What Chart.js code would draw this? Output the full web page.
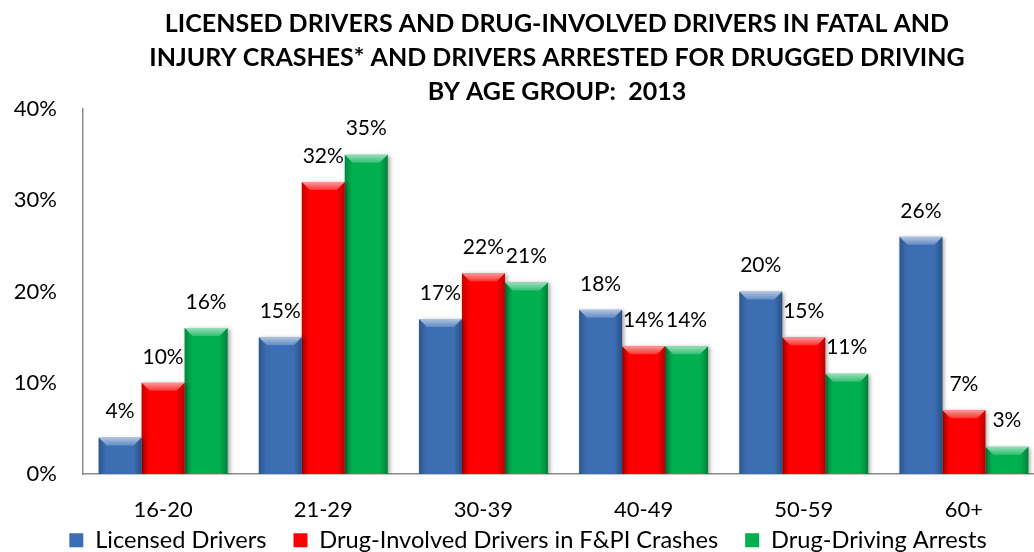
<!DOCTYPE html>
<html>
<head>
<meta charset="utf-8">
<script src="https://cdn.jsdelivr.net/npm/chart.js@4.4.1/dist/chart.umd.min.js"></script>
<style>
  html, body { margin: 0; padding: 0; background: #fff; overflow: hidden; width: 1034px; height: 552px; }
  #wrap { position: absolute; left: 0; top: 0; width: 1062px; height: 590px; }
</style>
</head>
<body>
<div id="wrap"><canvas id="c" width="1062" height="590"></canvas></div>
<script>
const titleLines = [
  'LICENSED DRIVERS AND DRUG-INVOLVED DRIVERS IN FATAL AND',
  'INJURY CRASHES* AND DRIVERS ARRESTED FOR DRUGGED DRIVING',
  'BY AGE GROUP:  2013'
];
const ageGroups = ['16-20', '21-29', '30-39', '40-49', '50-59', '60+'];
const seriesNames = ['Licensed Drivers', 'Drug-Involved Drivers in F&PI Crashes', 'Drug-Driving Arrests'];
const licensedDrivers = [4, 15, 17, 18, 20, 26];
const drugInvolvedDrivers = [10, 32, 22, 14, 15, 7];
const drugDrivingArrests = [16, 35, 21, 14, 11, 3];
const yTicks = [0, 10, 20, 30, 40];

const FONT = 'Lato';

const titlePlugin = {
  id: 'titleText',
  afterDraw(chart) {
    const ctx = chart.ctx;
    ctx.save();
    ctx.font = 'bold 25px ' + FONT;
    ctx.fillStyle = '#000';
    ctx.textAlign = 'center';
    ctx.textBaseline = 'middle';
    const ys = [24, 58, 92];
    titleLines.forEach((t, i) => ctx.fillText(t, 557, ys[i]));
    ctx.restore();
  }
};

const legendShift = {
  id: 'legendShift',
  afterLayout(chart) {
    const lg = chart.legend;
    if (lg) { lg.top -= 28; lg.bottom -= 28; }
  }
};

const bevelPlugin = {
  id: 'bevel',
  beforeDatasetsDraw(chart) {
    const ctx = chart.ctx;
    ctx.save();
    ctx.shadowColor = 'rgba(0,0,0,0.35)';
    ctx.shadowBlur = 4;
    ctx.shadowOffsetX = 2;
    ctx.shadowOffsetY = 1;
  },
  afterDatasetsDraw(chart) {
    const ctx = chart.ctx;
    ctx.restore();
    ctx.save();
    chart.data.datasets.forEach((ds, di) => {
      const meta = chart.getDatasetMeta(di);
      meta.data.forEach((bar) => {
        const p = bar.getProps(['x', 'y', 'base', 'width'], true);
        const l = p.x - p.width / 2, r = p.x + p.width / 2, t = p.y, b = p.base;
        const h = b - t;
        const bv = Math.min(8, h / 2);
        let g = ctx.createLinearGradient(0, t, 0, t + bv);
        g.addColorStop(0, 'rgba(255,255,255,0.6)');
        g.addColorStop(1, 'rgba(255,255,255,0.2)');
        ctx.fillStyle = g;
        ctx.beginPath();
        ctx.moveTo(l, t); ctx.lineTo(r, t); ctx.lineTo(r - bv, t + bv); ctx.lineTo(l + bv, t + bv); ctx.closePath();
        ctx.fill();
        g = ctx.createLinearGradient(l, 0, l + bv, 0);
        g.addColorStop(0, 'rgba(0,0,0,0.22)');
        g.addColorStop(1, 'rgba(0,0,0,0)');
        ctx.fillStyle = g;
        ctx.beginPath();
        ctx.moveTo(l, t); ctx.lineTo(l + bv, t + bv); ctx.lineTo(l + bv, b); ctx.lineTo(l, b); ctx.closePath();
        ctx.fill();
        g = ctx.createLinearGradient(r, 0, r - bv, 0);
        g.addColorStop(0, 'rgba(0,0,0,0.28)');
        g.addColorStop(1, 'rgba(0,0,0,0)');
        ctx.fillStyle = g;
        ctx.beginPath();
        ctx.moveTo(r, t); ctx.lineTo(r - bv, t + bv); ctx.lineTo(r - bv, b); ctx.lineTo(r, b); ctx.closePath();
        ctx.fill();
      });
    });
    ctx.font = '21px ' + FONT;
    ctx.fillStyle = '#000';
    ctx.textAlign = 'center';
    ctx.textBaseline = 'middle';
    chart.data.datasets.forEach((ds, di) => {
      const meta = chart.getDatasetMeta(di);
      meta.data.forEach((bar, i) => {
        const p = bar.getProps(['x', 'y'], true);
        ctx.fillText(ds.data[i] + '%', p.x, p.y - 26);
      });
    });
    ctx.restore();
  }
};

new Chart(document.getElementById('c'), {
  type: 'bar',
  data: {
    labels: ageGroups,
    datasets: [
      { label: seriesNames[0], data: licensedDrivers, backgroundColor: '#3C6EB4' },
      { label: seriesNames[1], data: drugInvolvedDrivers, backgroundColor: '#FF0000' },
      { label: seriesNames[2], data: drugDrivingArrests, backgroundColor: '#00B050' }
    ]
  },
  options: {
    responsive: false,
    animation: false,
    events: [],
    layout: { padding: { left: 12, right: 18, top: 109, bottom: 0 } },
    datasets: { bar: { categoryPercentage: 0.805, barPercentage: 1.0, borderWidth: 0 } },
    scales: {
      x: {
        grid: { display: false, drawTicks: false },
        border: { display: true, color: '#8C8C8C', width: 1.5 },
        ticks: { color: '#000', font: { family: FONT, size: 22 }, padding: 23, maxRotation: 0, autoSkip: false },
        afterFit(s) { s.height = 55.4; }
      },
      y: {
        min: 0, max: 40,
        grid: { display: false, drawTicks: false },
        border: { display: true, color: '#8C8C8C', width: 1.5 },
        afterBuildTicks(s) { s.ticks = yTicks.map(v => ({ value: v })); },
        ticks: { color: '#000', font: { family: FONT, size: 22 }, padding: 26, callback: v => v + '%' },
        afterFit(s) { s.width = 71; }
      }
    },
    plugins: {
      title: { display: false },
      tooltip: { enabled: false },
      legend: {
        position: 'bottom',
        labels: { color: '#000', font: { family: FONT, size: 23.6 }, boxWidth: 14, boxHeight: 14, padding: 27 }
      }
    }
  },
  plugins: [bevelPlugin, titlePlugin, legendShift]
});
</script>
</body>
</html>
